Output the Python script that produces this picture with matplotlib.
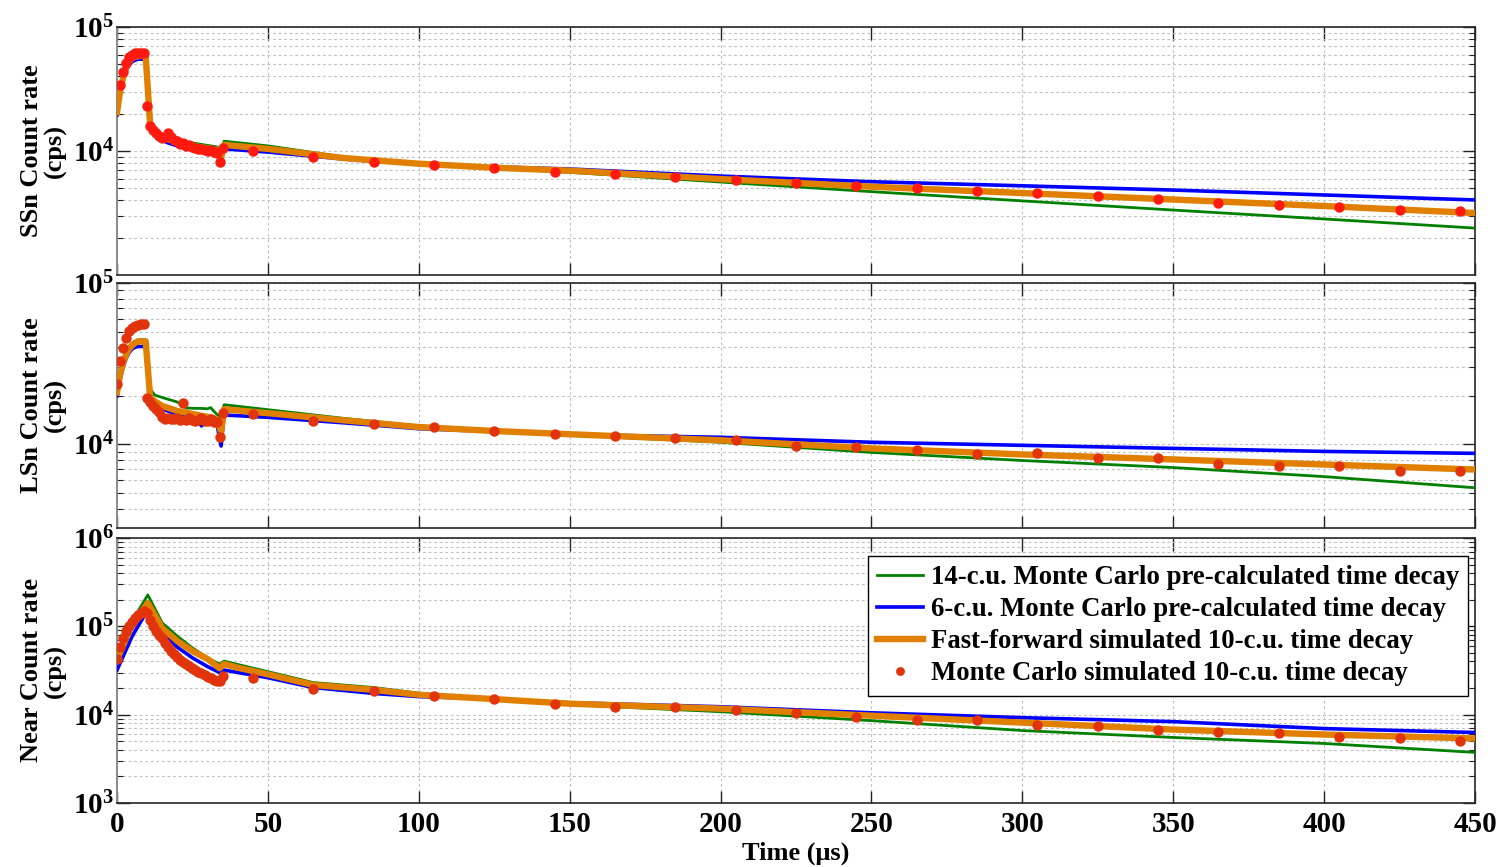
import matplotlib
matplotlib.use('Agg')
import matplotlib.pyplot as plt
from matplotlib.ticker import LogLocator, NullFormatter, FixedLocator

plt.rcParams['font.family'] = ['Liberation Serif', 'DejaVu Serif']
plt.rcParams['font.weight'] = 'bold'
plt.rcParams['mathtext.fontset'] = 'custom'
plt.rcParams['mathtext.rm'] = 'Liberation Serif:bold'
plt.rcParams['mathtext.bf'] = 'Liberation Serif:bold'
plt.rcParams['mathtext.it'] = 'Liberation Serif:bold:italic'

# ---------------- data ----------------
legend_labels = ["14-c.u. Monte Carlo pre-calculated time decay",
                 "6-c.u. Monte Carlo pre-calculated time decay",
                 "Fast-forward simulated 10-c.u. time decay",
                 "Monte Carlo simulated 10-c.u. time decay"]
ylabels = ["SSn Count rate\n(cps)", "LSn Count rate\n(cps)", "Near Count rate\n(cps)"]
x_ticks = [0, 50, 100, 150, 200, 250, 300, 350, 400, 450]

# Panel 1 (SSn)
t1 = [0, 1, 2, 3, 4, 5, 6, 7, 8, 9, 9.5, 11, 13, 15, 17, 20, 25, 28, 30, 33, 34.5, 35.5,
      50, 75, 100, 125, 150, 200, 250, 300, 350, 400, 450]
green1 = [21000, 30000, 39000, 47000, 52000, 55500, 57500, 58500, 59000, 59000, 59000, 17000,
          14300, 13500, 12900, 12300, 11600, 11300, 11100, 10800, 10200, 12000,
          11000, 8950, 8000, 7300, 6730, 5620, 4700, 3960, 3340, 2830, 2390]
blue1 = [19500, 28000, 37000, 44000, 49000, 52500, 54000, 55000, 55000, 55000, 55000, 15500,
         13000, 12200, 11600, 11000, 10400, 10150, 10000, 9800, 8450, 10400,
         9800, 8620, 7800, 7450, 7160, 6280, 5650, 5240, 4840, 4420, 4030]
orange1 = [20500, 30000, 39000, 47000, 52500, 56000, 57500, 58000, 58500, 58500, 58500, 16200,
           13700, 13000, 12400, 11800, 11000, 10700, 10500, 10200, 8950, 11200,
           10400, 8780, 7900, 7330, 6940, 5940, 5150, 4580, 4060, 3600, 3160]
td1 = [1, 2, 3, 4, 5, 6, 7, 8, 9, 10, 11, 12, 13, 14, 15, 16, 17, 18, 19, 20, 21, 22, 23, 24,
       25, 26, 27, 28, 29, 30, 31, 32, 33, 34, 35,
       45, 65, 85, 105, 125, 145, 165, 185, 205, 225, 245, 265, 285, 305, 325, 345, 365, 385,
       405, 425, 445]
dots1 = [34000, 43500, 51000, 57000, 60000, 61500, 62000, 62000, 62000, 23000, 16000, 14800,
         14000, 13200, 12700, 12900, 14000, 12900, 12300, 12000, 11400, 11700, 11000, 11100,
         10700, 10600, 10400, 10300, 10200, 10000, 10100, 9800, 9600, 8200, 10500,
         10000, 8950, 8150, 7700, 7330, 6770, 6530, 6170, 5840, 5520, 5230, 5030, 4760, 4580,
         4330, 4100, 3800, 3670, 3540, 3340, 3280]

# Panel 2 (LSn)
t2 = [0, 1, 2, 3, 4, 5, 6, 7, 8, 9, 9.5, 11, 12.5, 15, 20, 23, 26, 28, 30, 31, 33, 34.5, 35.5,
      50, 75, 100, 125, 150, 200, 250, 300, 350, 400, 450]
green2 = [22000, 28500, 33500, 37500, 40500, 42500, 43500, 44000, 44500, 44500, 44500, 22000,
          20200, 19500, 18300, 16800, 16700, 16700, 16600, 16900, 15400, 14700, 17600,
          16400, 14500, 13000, 12200, 11400, 10300, 8910, 7940, 7180, 6310, 5380]
blue2 = [20000, 25000, 30000, 34000, 37000, 39000, 40000, 40400, 40400, 40400, 40400, 18500,
         17500, 16500, 15400, 15000, 14600, 13000, 14200, 14000, 13700, 9760, 15200,
         14700, 13600, 12500, 12000, 11500, 11060, 10300, 9860, 9440, 9040, 8790]
orange2 = [21000, 27000, 32000, 36000, 39000, 41000, 42500, 43500, 43500, 43500, 43500, 19500,
           18500, 17300, 16100, 15700, 15300, 15000, 14800, 14700, 14300, 12000, 16500,
           15600, 14100, 12800, 12100, 11550, 10600, 9440, 8660, 8060, 7500, 6980]
td2 = [0, 1, 2, 3, 4, 5, 6, 7, 8, 9, 10, 11, 12, 13, 14, 15, 16, 17, 18, 19, 20, 21, 22, 23,
       24, 25, 26, 27, 28, 29, 30, 31, 32, 33, 34, 35,
       45, 65, 85, 105, 125, 145, 165, 185, 205, 225, 245, 265, 285, 305, 325, 345, 365, 385,
       405, 425, 445]
dots2 = [23700, 32700, 39800, 45300, 50100, 52400, 54000, 55000, 55500, 55500, 19400, 18300,
         17300, 16600, 15800, 14700, 14300, 14600, 14300, 14300, 14600, 14200, 18000, 14100,
         14600, 14200, 13900, 14200, 14600, 14000, 13900, 14300, 13700, 13700, 11100, 15700,
         15400, 14000, 13300, 12800, 12100, 11550, 11200, 10900, 10600, 9700, 9580, 9170,
         8660, 8790, 8180, 8180, 7500, 7390, 7290, 6880, 6880]

# Panel 3 (Near)
t3 = [0, 5, 10.2, 15, 20, 25, 30, 34, 35.5, 40, 50, 65, 85, 100, 125, 150, 200, 250, 300,
      350, 400, 450]
green3 = [44000, 114000, 227000, 109000, 77300, 57000, 44000, 37300, 40400, 37000, 30700,
          23100, 20300, 17500, 15000, 12950, 10800, 8560, 6610, 5520, 4720, 3740]
blue3 = [32000, 77000, 154000, 85000, 58000, 44000, 35000, 30000, 32000, 30000, 26200,
         20300, 17400, 16000, 15100, 13650, 12300, 10500, 9250, 8340, 6960, 6280]
orange3 = [42000, 105000, 183000, 95000, 68000, 52400, 42700, 33500, 37500, 34000, 28600,
           21700, 19100, 16800, 15000, 13300, 11700, 9740, 8130, 6780, 5960, 5380]
td3 = [0, 1, 2, 3, 4, 5, 6, 7, 8, 9, 10, 11, 12, 13, 14, 15, 16, 17, 18, 19, 20, 21, 22, 23,
       24, 25, 26, 27, 28, 29, 30, 31, 32, 33, 34, 35,
       45, 65, 85, 105, 125, 145, 165, 185, 205, 225, 245, 265, 285, 305, 325, 345, 365, 385,
       405, 425, 445]
dots3 = [42300, 58100, 74000, 87900, 100000, 111000, 123000, 133000, 143000, 148000, 140000,
         119000, 100000, 88000, 80000, 74000, 64000, 58000, 52500, 48000, 45000, 41500, 39000,
         37000, 35500, 33500, 32000, 30500, 29300, 28000, 26800, 25800, 25000, 24200, 24000,
         27400,
         25800, 19500, 18600, 16300, 15100, 13300, 12300, 12300, 11400, 10500, 9500, 8790,
         8790, 7720, 7520, 6780, 6440, 6280, 5660, 5380, 4980]

panels = [
    dict(t=t1, g=green1, b=blue1, o=orange1, td=td1, d=dots1, ylim=(1e3, 1e5),
         yt=[1e4, 1e5], ytl=[r'$10^4$', r'$10^5$'], dc='#ff1a10'),
    dict(t=t2, g=green2, b=blue2, o=orange2, td=td2, d=dots2, ylim=(3030, 1e5),
         yt=[1e4, 1e5], ytl=[r'$10^4$', r'$10^5$'], dc='#e2340c'),
    dict(t=t3, g=green3, b=blue3, o=orange3, td=td3, d=dots3, ylim=(1e3, 1e6),
         yt=[1e3, 1e4, 1e5, 1e6], ytl=[r'$10^3$', r'$10^4$', r'$10^5$', r'$10^6$'],
         dc='#e2340c'),
]

# ---------------- layout ----------------
W, H = 1505, 867
fig = plt.figure(figsize=(W / 100, H / 100), dpi=100)
boxes = [(27, 275), (283, 528), (538, 803)]
left_px, right_px = 117, 1475

axes = []
for i, (p, (top, bot)) in enumerate(zip(panels, boxes)):
    ax = fig.add_axes([left_px / W, 1 - bot / H, (right_px - left_px) / W, (bot - top) / H])
    axes.append(ax)
    lg, = ax.plot(p['t'], p['g'], color='#008000', lw=2.0, zorder=3)
    lb, = ax.plot(p['t'], p['b'], color='#0000ff', lw=2.6, zorder=3)
    lo, = ax.plot(p['t'], p['o'], color='#e07f00', lw=4.6, zorder=4)
    ld, = ax.plot(p['td'], p['d'], 'o', color=p['dc'], ms=7.5, mec='none', zorder=5)
    ax.set_yscale('log')
    ax.set_xlim(0, 450)
    ax.set_ylim(*p['ylim'])
    ax.yaxis.set_major_locator(FixedLocator(p['yt']))
    ax.set_yticklabels(p['ytl'])
    ax.yaxis.set_minor_locator(LogLocator(base=10, subs=range(2, 10), numticks=30))
    ax.yaxis.set_minor_formatter(NullFormatter())
    ax.set_xticks(x_ticks)
    if i < 2:
        ax.set_xticklabels([])
    ax.grid(True, which='both', axis='y', ls=(0, (2.5, 2.5)), color='#c0c0c0', lw=0.8, zorder=0)
    ax.grid(True, which='major', axis='x', ls=(0, (2.5, 2.5)), color='#c0c0c0', lw=0.8, zorder=0)
    ax.tick_params(axis='both', which='both', direction='in', top=True, right=True,
                   labelsize=21, colors='#222222', labelcolor='black')
    ax.tick_params(axis='y', which='major', length=9, width=1.0, pad=2)
    ax.tick_params(axis='y', which='minor', length=4.5, width=0.8)
    ax.tick_params(axis='x', which='major', length=9, width=1.0, pad=6)
    for side in ['top', 'right', 'bottom']:
        ax.spines[side].set_color('#262626')
        ax.spines[side].set_linewidth(1.2)
    ax.spines['left'].set_color('#8a8a8a')
    ax.spines['left'].set_linewidth(1.4)
    ax.set_ylabel(ylabels[i], fontsize=19, fontweight='bold', linespacing=1.0)
    ax.yaxis.set_label_coords(-0.037, 0.5)
    if i == 2:
        handles = [lg, lb, lo, ld]

leg = axes[2].legend(handles, legend_labels, loc='upper right', bbox_to_anchor=(0.995, 0.932),
                     borderaxespad=0, fontsize=19.3, frameon=True, fancybox=False,
                     edgecolor='black', framealpha=1, handlelength=1.7, handletextpad=0.3,
                     labelspacing=0.26, borderpad=0.35, markerscale=0.85)
leg.get_frame().set_linewidth(1.0)
for txt in leg.get_texts():
    txt.set_fontweight('bold')

axes[2].set_xlabel('Time (μs)', fontsize=19, fontweight='bold', labelpad=2)

fig.savefig('out.png', dpi=100)
